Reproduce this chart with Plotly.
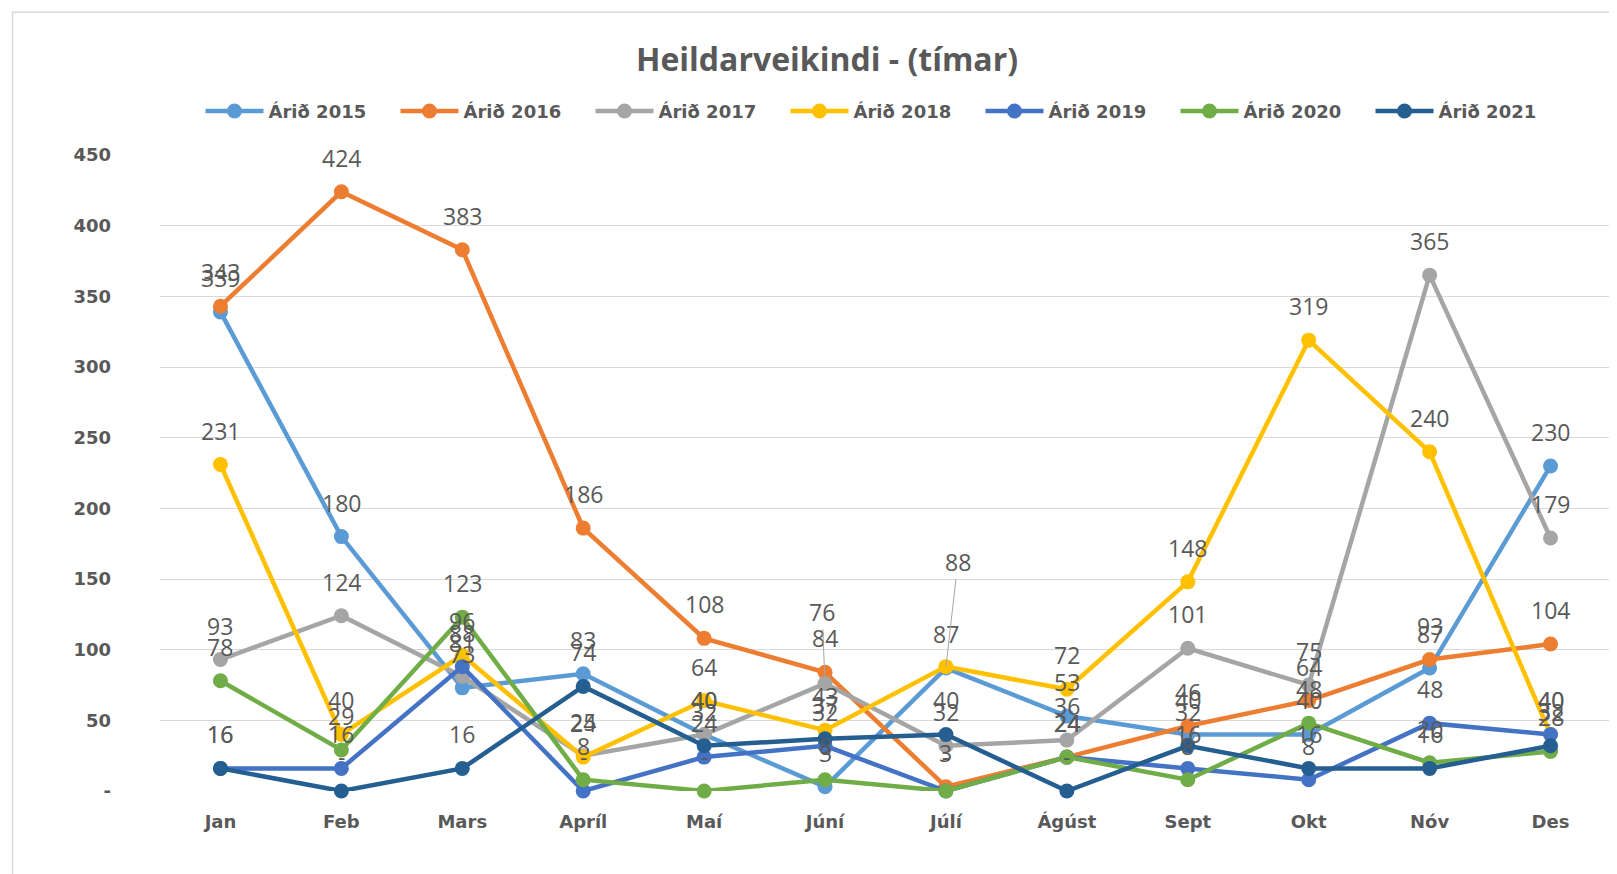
import plotly.graph_objects as go

months = ["Jan", "Feb", "Mars", "Apríl", "Maí", "Júní", "Júlí", "Ágúst", "Sept", "Okt", "Nóv", "Des"]
series_names = ["Árið 2015", "Árið 2016", "Árið 2017", "Árið 2018", "Árið 2019", "Árið 2020", "Árið 2021"]

y2015 = [339, 180, 73, 83, 40, 3, 87, 53, 40, 40, 87, 230]
y2016 = [343, 424, 383, 186, 108, 84, 3, 24, 46, 64, 93, 104]
y2017 = [93, 124, 81, 25, 40, 76, 32, 36, 101, 75, 365, 179]
y2018 = [231, 40, 96, 24, 64, 43, 88, 72, 148, 319, 240, 40]
y2019 = [16, 16, 88, 0, 24, 32, 0, 24, 16, 8, 48, 40]
y2020 = [78, 29, 123, 8, 0, 8, 0, 24, 8, 48, 20, 28]
y2021 = [16, 0, 16, 74, 32, 37, 40, 0, 32, 16, 16, 32]

colors = ["#5B9BD5", "#ED7D31", "#A5A5A5", "#FFC000", "#4472C4", "#70AD47", "#255E91"]
all_series = [y2015, y2016, y2017, y2018, y2019, y2020, y2021]

y_ticks = [0, 50, 100, 150, 200, 250, 300, 350, 400, 450]

LABEL_FONT = "Open Sans"
AXIS_FONT = "DejaVu Sans"
LABEL_COLOR = "#595959"


def fmt(v):
    return "-" if v == 0 else str(v)


fig = go.Figure()
for name, ys, col in zip(series_names, all_series, colors):
    fig.add_trace(go.Scatter(
        x=months, y=ys, name=name, mode="lines+markers",
        line=dict(color=col, width=4.5),
        marker=dict(color=col, size=15),
        cliponaxis=False,
        hoverinfo="x+y+name",
    ))

annotations = []
# labels displaced with a leader line: (series index, month index) -> (ax, ay)
displaced = {(2, 5): (-3, -72), (3, 6): (12, -105)}
for si, ys in enumerate(all_series):
    for mi, v in enumerate(ys):
        if (si, mi) in displaced:
            ax, ay = displaced[(si, mi)]
            annotations.append(dict(
                x=months[mi], y=v, text=fmt(v), showarrow=True, arrowhead=0,
                arrowwidth=1, arrowcolor="#A6A6A6", ax=ax, ay=ay, standoff=0,
                font=dict(family=LABEL_FONT, size=23, color=LABEL_COLOR),
            ))
        else:
            annotations.append(dict(
                x=months[mi], y=v, text=fmt(v), showarrow=False, yshift=34,
                font=dict(family=LABEL_FONT, size=23, color=LABEL_COLOR),
            ))

FW, FH = 1609, 866
ml, mt = 151.5, 146.7
W, H = 1452, 636.3
mr = FW - ml - W
mb = FH - mt - H

fig.update_layout(
    width=FW, height=FH,
    margin=dict(l=ml, r=mr, t=mt, b=mb),
    paper_bgcolor="white", plot_bgcolor="white",
    title=dict(text="<b>Heildarveikindi - (tímar)</b>", x=819 / FW, xref="container", xanchor="center",
               y=1 - 52 / FH, yref="container", yanchor="middle",
               font=dict(family=LABEL_FONT, size=32, color=LABEL_COLOR)),
    showlegend=True,
    legend=dict(orientation="h", x=(875 - ml) / W, xanchor="center", y=(H + mt - 103) / H, yanchor="middle",
                font=dict(family=AXIS_FONT, size=18, color=LABEL_COLOR, weight="bold"),
                entrywidth=122, entrywidthmode="pixels", itemwidth=58,
                bgcolor="rgba(0,0,0,0)"),
    xaxis=dict(range=[-0.5, 11.5], showgrid=False, zeroline=False, showline=False, ticks="",
               tickfont=dict(family=AXIS_FONT, size=18, color=LABEL_COLOR, weight="bold"),
               ticklabelstandoff=18, fixedrange=True),
    yaxis=dict(range=[0, 450], tickvals=y_ticks, ticktext=[fmt(t) for t in y_ticks],
               showgrid=True, gridcolor="#D9D9D9", gridwidth=1, zeroline=False, showline=False, ticks="",
               tickfont=dict(family=AXIS_FONT, size=18, color=LABEL_COLOR, weight="bold"),
               ticklabelstandoff=48, fixedrange=True),
    annotations=annotations,
    shapes=[dict(type="rect", xref="paper", yref="paper",
                 x0=(4 - ml) / W, x1=1.2, y0=-0.3, y1=(H + mt - 4) / H,
                 line=dict(color="#D9D9D9", width=1.5), fillcolor="rgba(0,0,0,0)", layer="below")],
    hovermode="closest",
)

fig.write_html("out.html")
